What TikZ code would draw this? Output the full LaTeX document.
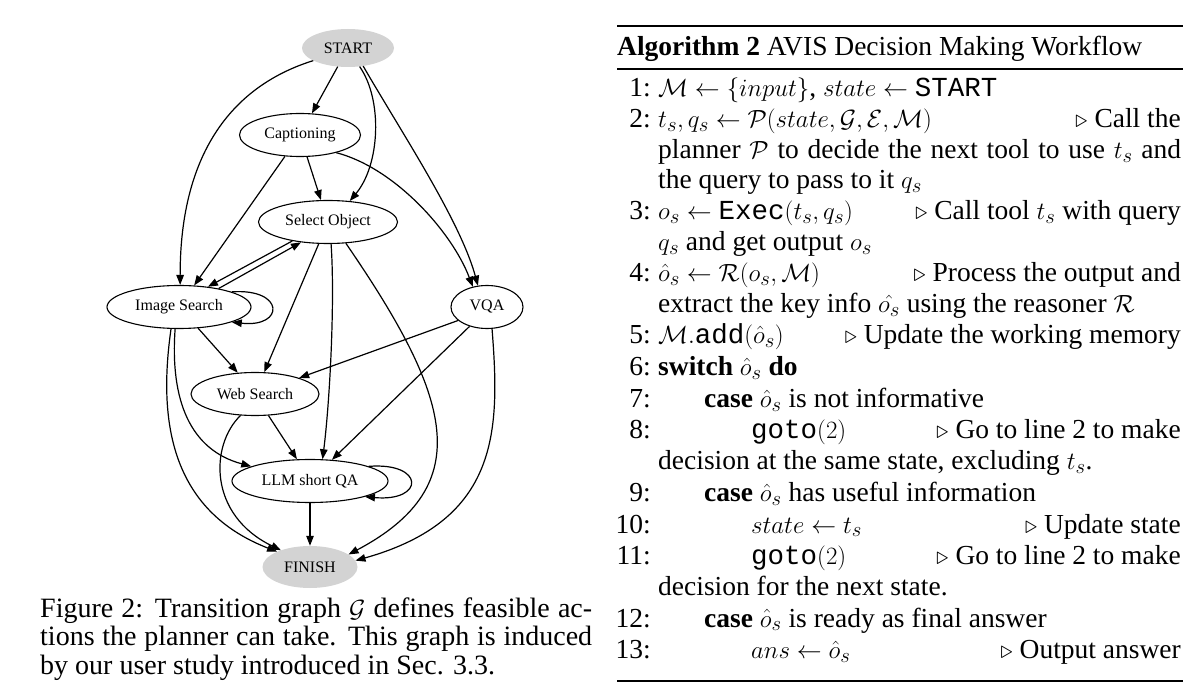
\documentclass[tikz,border=0pt]{standalone}
\usepackage[no-math]{fontspec}
\setmainfont{Liberation Serif}
\setmonofont{Liberation Mono}
\usetikzlibrary{shapes.geometric,arrows.meta}
\definecolor{termgray}{RGB}{211,211,211}
\newcommand\algfont{\fontsize{27.5}{31}\selectfont}
\newcommand\gfont{\fontsize{16}{19}\selectfont}
\newcommand\capfont{\fontsize{28}{28.5}\selectfont}
\tikzset{
  gnode/.style={ellipse, draw, line width=1.1pt, inner sep=0pt, font=\gfont},
  term/.style={ellipse, fill=termgray, inner sep=0pt, font=\gfont},
  edge/.style={line width=1.2pt, -{Triangle[length=10pt,width=7.5pt]}},
  txt/.style={inner sep=0pt, font=\algfont},
  captxt/.style={inner sep=0pt, font=\capfont, anchor=base west},
  num/.style={txt, anchor=base east},
  lft/.style={txt, anchor=base west},
  cmt/.style={txt, anchor=base east},
  rulethick/.style={line width=2pt},
  rulethin/.style={line width=1.2pt},
}
\begin{document}
\begin{tikzpicture}[x=1pt,y=-1pt]
\useasboundingbox (0,0) rectangle (1200,692);
% ---------------- graph ----------------
\node[term, minimum width=92pt, minimum height=38pt] (start) at (348,48) {START};
\node[gnode, minimum width=121pt, minimum height=43pt] (cap) at (300,135) {Captioning};
\node[gnode, minimum width=139pt, minimum height=43pt] (so) at (328,222) {Select Object};
\node[gnode, minimum width=144pt, minimum height=43pt] (is) at (179,307) {Image Search};
\node[gnode, minimum width=72pt, minimum height=43pt] (vqa) at (487,307) {VQA};
\node[gnode, minimum width=128pt, minimum height=43pt] (ws) at (255,394) {Web Search};
\node[gnode, minimum width=156pt, minimum height=43pt] (llm) at (310,481) {LLM short QA};
\node[term, minimum width=95pt, minimum height=42pt] (fin) at (310,567) {FINISH};

\draw[edge] (start) -- (cap);
\draw[edge] (start.200) .. controls (235,85) and (180,150) .. (is.87);
\draw[edge] (start.302) .. controls (383,100) and (380,165) .. (so.44);
\draw[edge] (start.310) .. controls (400,130) and (460,220) .. (vqa.113);
\draw[edge] (cap) -- (is);
\draw[edge] (cap) -- (so);
\draw[edge] (cap.334) .. controls (395,168) and (452,232) .. (vqa.125);
\draw[edge] (so.208) -- (is.35);
\draw[edge] (is.25) -- (so.217);
\draw[edge] (is.16) .. controls (285,288) and (285,328) .. (is.-16);
\draw[edge] (so) -- (ws);
\draw[edge] (so.278) .. controls (335,300) and (330,400) .. (llm.60);
\draw[edge] (so.310) .. controls (450,395) and (480,485) .. (fin.18);
\draw[edge] (vqa.205) -- (ws.20);
\draw[edge] (vqa.228) -- (llm.44);
\draw[edge] (vqa.283) .. controls (500,430) and (500,520) .. (fin.8);
\draw[edge] (is.312) -- (ws.129);
\draw[edge] (is.260) .. controls (170,400) and (190,450) .. (llm.166);
\draw[edge] (is.250) .. controls (158,420) and (170,510) .. (fin.155);
\draw[edge] (ws.302) -- (llm.121);
\draw[edge] (ws.236) .. controls (210,445) and (208,515) .. (fin.150);
\draw[edge] (llm.14) .. controls (425,462) and (425,502) .. (llm.-16);
\draw[edge] (llm) -- (fin);

% ---------------- caption ----------------
\node[captxt] (c1) at (40,617) {\makebox[552pt][s]{Figure 2: Transition graph $\mathcal{G}$ defines feasible ac-}};
\node[captxt] (c2) at (40,645.5) {\makebox[552pt][s]{tions the planner can take. This graph is induced}};
\node[captxt] (c3) at (40,674) {by our user study introduced in Sec. 3.3.};

% ---------------- algorithm ----------------
\draw[rulethick] (617,26) -- (1183,26);
\node[lft] (title) at (617,56) {\textbf{Algorithm 2} AVIS Decision Making Workflow};
\draw[rulethin] (617,69) -- (1183,69);
\draw[rulethin] (617,681) -- (1183,681);

\node[num] (n1) at (651,97) {1:};
\node[lft] (l1) at (658,97) {$\mathcal{M} \leftarrow \{input\}$, $state \leftarrow$ \texttt{START}};
\node[num] (n2) at (651,127.5) {2:};
\node[lft] (l2) at (658,127.5) {$t_s, q_s \leftarrow \mathcal{P}(state, \mathcal{G}, \mathcal{E}, \mathcal{M})$};
\node[cmt] (k2) at (1181,127.5) {$\triangleright$ Call the};
\node[lft] (l2b) at (658,158.5) {\makebox[523pt][s]{planner $\mathcal{P}$ to decide the next tool to use $t_s$ and}};
\node[lft] (l2c) at (658,188.5) {the query to pass to it $q_s$};
\node[num] (n3) at (651,219.5) {3:};
\node[lft] (l3) at (658,219.5) {$o_s \leftarrow \texttt{Exec}(t_s, q_s)$};
\node[cmt] (k3) at (1181,219.5) {$\triangleright$ Call tool $t_s$ with query};
\node[lft] (l3b) at (658,250.5) {$q_s$ and get output $o_s$};
\node[num] (n4) at (651,282) {4:};
\node[lft] (l4) at (658,282) {$\hat{o}_s \leftarrow \mathcal{R}(o_s, \mathcal{M})$};
\node[cmt] (k4) at (1181,282) {$\triangleright$ Process the output and};
\node[lft] (l4b) at (658,312.5) {extract the key info $\hat{o_s}$ using the reasoner $\mathcal{R}$};
\node[num] (n5) at (651,344) {5:};
\node[lft] (l5) at (658,344) {$\mathcal{M}.\texttt{add}(\hat{o}_s)$};
\node[cmt] (k5) at (1181,344) {$\triangleright$ Update the working memory};
\node[num] (n6) at (651,376) {6:};
\node[lft] (l6) at (658,376) {\textbf{switch} $\hat{o}_s$ \textbf{do}};
\node[num] (n7) at (651,407.5) {7:};
\node[lft] (l7) at (704,407.5) {\textbf{case} $\hat{o}_s$ is not informative};
\node[num] (n8) at (651,439) {8:};
\node[lft] (l8) at (751,439) {\texttt{goto}$(2)$};
\node[cmt] (k8) at (1181,439) {$\triangleright$ Go to line 2 to make};
\node[lft] (l8b) at (658,470) {decision at the same state, excluding $t_s$.};
\node[num] (n9) at (651,501.5) {9:};
\node[lft] (l9) at (704,501.5) {\textbf{case} $\hat{o}_s$ has useful information};
\node[num] (n10) at (651,533) {10:};
\node[lft] (l10) at (751,533) {$state \leftarrow t_s$};
\node[cmt] (k10) at (1181,533) {$\triangleright$ Update state};
\node[num] (n11) at (651,564.5) {11:};
\node[lft] (l11) at (751,564.5) {\texttt{goto}$(2)$};
\node[cmt] (k11) at (1181,564.5) {$\triangleright$ Go to line 2 to make};
\node[lft] (l11b) at (658,595.5) {decision for the next state.};
\node[num] (n12) at (651,627) {12:};
\node[lft] (l12) at (704,627) {\textbf{case} $\hat{o}_s$ is ready as final answer};
\node[num] (n13) at (651,658.5) {13:};
\node[lft] (l13) at (751,658.5) {$ans \leftarrow \hat{o}_s$};
\node[cmt] (k13) at (1181,658.5) {$\triangleright$ Output answer};
\end{tikzpicture}
\end{document}
